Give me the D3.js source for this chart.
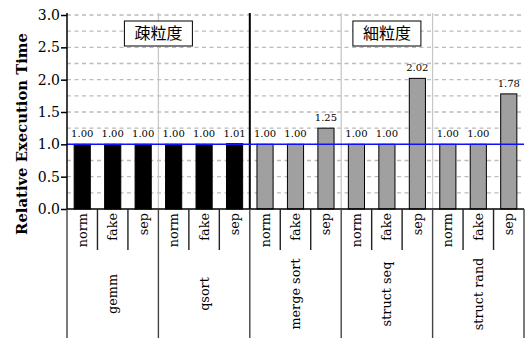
<!DOCTYPE html>
<html>
<head>
<meta charset="utf-8">
<script src="https://cdn.jsdelivr.net/npm/d3@7"></script>
<style>
  body { margin: 0; background: #fff; }
  text { font-family: "DejaVu Serif", serif; fill: #000; }
</style>
</head>
<body>
<svg></svg>
<script>
const groups = ["gemm", "qsort", "merge sort", "struct seq", "struct rand"];
const variants = ["norm", "fake", "sep"];
// relative execution time per group, in variant order
const values = [
  [1.00, 1.00, 1.00],
  [1.00, 1.00, 1.01],
  [1.00, 1.00, 1.25],
  [1.00, 1.00, 2.02],
  [1.00, 1.00, 1.78],
];
const groupKind = ["coarse", "coarse", "fine", "fine", "fine"];
const kindLabels = { coarse: "疎粒度", fine: "細粒度" };
const yTicks = [0, 0.5, 1.0, 1.5, 2.0, 2.5, 3.0];
const gridTicks = [0.25, 0.5, 0.75, 1, 1.25, 1.5, 1.75, 2, 2.25, 2.5, 2.75, 3];

const width = 526,
  height = 338,
  margin = { top: 15, right: 2, bottom: 129, left: 67 };

const svg = d3.select("svg").attr("width", width).attr("height", height);

// flat list of bars
const bars = [];
groups.forEach((g, gi) => {
  variants.forEach((v, vi) => {
    bars.push({ key: g + "|" + v, group: g, variant: v, value: values[gi][vi], kind: groupKind[gi] });
  });
});

const x = d3
  .scaleBand()
  .domain(bars.map((d) => d.key))
  .range([margin.left, width - margin.right])
  .paddingInner(0.47)
  .paddingOuter(0.235);

const y = d3
  .scaleLinear()
  .domain([0, 3])
  .range([height - margin.bottom, margin.top]);

const step = x.step();
const groupWidth = step * variants.length;
const groupLeft = (gi) => margin.left + gi * groupWidth;
const yTop = y(3.03);
const y0 = y(0);

// dashed grid
svg
  .append("g")
  .selectAll("line")
  .data(gridTicks)
  .enter()
  .append("line")
  .attr("x1", margin.left)
  .attr("x2", width - margin.right)
  .attr("y1", (d) => y(d))
  .attr("y2", (d) => y(d))
  .attr("stroke", "#bbb")
  .attr("stroke-width", 1.4)
  .attr("stroke-dasharray", "4,3.5");

// group separators inside the plot
const kindChange = groups.map((g, gi) => gi > 0 && groupKind[gi] !== groupKind[gi - 1]);
svg
  .append("g")
  .selectAll("line")
  .data(groups.slice(1).map((g, i) => i + 1))
  .enter()
  .append("line")
  .attr("x1", (gi) => groupLeft(gi))
  .attr("x2", (gi) => groupLeft(gi))
  .attr("y1", yTop)
  .attr("y2", y0)
  .attr("stroke", (gi) => (kindChange[gi] ? "#000" : "#c8c8c8"))
  .attr("stroke-width", (gi) => (kindChange[gi] ? 2 : 1.3));

// bars
svg
  .append("g")
  .selectAll("rect")
  .data(bars)
  .enter()
  .append("rect")
  .attr("x", (d) => x(d.key))
  .attr("y", (d) => y(d.value))
  .attr("width", x.bandwidth())
  .attr("height", (d) => y0 - y(d.value))
  .attr("fill", (d) => (d.kind === "coarse" ? "#000" : "#a0a0a0"))
  .attr("stroke", "#000")
  .attr("stroke-width", 1);

// value labels
svg
  .append("g")
  .selectAll("text")
  .data(bars)
  .enter()
  .append("text")
  .attr("x", (d) => x(d.key) + x.bandwidth() / 2)
  .attr("y", (d) => y(d.value) - 7)
  .attr("text-anchor", "middle")
  .attr("font-size", 10)
  .text((d) => d.value.toFixed(2));

// baseline at 1.0
svg
  .append("line")
  .attr("x1", margin.left)
  .attr("x2", width - margin.right)
  .attr("y1", y(1))
  .attr("y2", y(1))
  .attr("stroke", "#1010ff")
  .attr("stroke-width", 1.5);

// y axis
const yAxis = svg
  .append("g")
  .attr("transform", `translate(${margin.left},0)`)
  .call(d3.axisLeft(y).tickValues(yTicks).tickFormat(d3.format(".1f")).tickSize(6).tickPadding(1));
yAxis.select(".domain").attr("d", `M0,${yTop}V${y0}`).attr("stroke-width", 1.5);
yAxis.selectAll(".tick line").attr("stroke-width", 1.5);
yAxis.selectAll("text").attr("font-size", 14).attr("font-family", "DejaVu Serif");

svg
  .append("text")
  .attr("transform", `translate(27, 134) rotate(-90)`)
  .attr("text-anchor", "middle")
  .attr("font-size", 14.8)
  .attr("font-weight", "bold")
  .text("Relative Execution Time");

// x axis baseline
svg
  .append("line")
  .attr("x1", margin.left)
  .attr("x2", width - margin.right)
  .attr("y1", y0)
  .attr("y2", y0)
  .attr("stroke", "#000")
  .attr("stroke-width", 1.5);

// variant separators below axis
const subSep = [];
groups.forEach((g, gi) => {
  for (let i = 1; i < variants.length; i++) subSep.push(groupLeft(gi) + i * step);
});
svg
  .append("g")
  .selectAll("line")
  .data(subSep)
  .enter()
  .append("line")
  .attr("x1", (d) => d)
  .attr("x2", (d) => d)
  .attr("y1", y0)
  .attr("y2", y0 + 41)
  .attr("stroke", "#222")
  .attr("stroke-width", 1.4);

// group separators below axis
svg
  .append("g")
  .selectAll("line")
  .data(d3.range(groups.length + 1))
  .enter()
  .append("line")
  .attr("x1", (gi) => groupLeft(gi))
  .attr("x2", (gi) => groupLeft(gi))
  .attr("y1", y0)
  .attr("y2", height)
  .attr("stroke", "#444")
  .attr("stroke-width", 1.4);

// variant labels
svg
  .append("g")
  .selectAll("text")
  .data(bars)
  .enter()
  .append("text")
  .attr("transform", (d) => `translate(${x(d.key) + x.bandwidth() / 2}, ${y0 + 4}) rotate(-90)`)
  .attr("text-anchor", "end")
  .attr("dy", "0.35em")
  .attr("font-size", 12.8)
  .text((d) => d.variant);

// group labels
svg
  .append("g")
  .selectAll("text")
  .data(groups)
  .enter()
  .append("text")
  .attr("transform", (d, gi) => `translate(${groupLeft(gi) + groupWidth / 2}, 294) rotate(-90)`)
  .attr("text-anchor", "middle")
  .attr("dy", "0.35em")
  .attr("font-size", 12.8)
  .text((d) => d);

// granularity boxes
const kinds = Object.keys(kindLabels).map((k) => {
  const idx = groupKind.map((g, i) => (g === k ? i : -1)).filter((i) => i >= 0);
  const left = groupLeft(d3.min(idx));
  const right = groupLeft(d3.max(idx) + 1);
  return { label: kindLabels[k], cx: (left + right) / 2 };
});

const box = svg
  .append("g")
  .selectAll("g")
  .data(kinds)
  .enter()
  .append("g")
  .attr("transform", (d) => `translate(${d.cx}, 33.5)`);

box
  .append("rect")
  .attr("x", -34)
  .attr("y", -12.5)
  .attr("width", 68)
  .attr("height", 25)
  .attr("fill", "#fff")
  .attr("stroke", "#000")
  .attr("stroke-width", 1);

box
  .append("text")
  .attr("text-anchor", "middle")
  .attr("dy", "0.36em")
  .attr("font-size", 16)
  .style("font-family", "'Noto Sans CJK JP'")
  .text((d) => d.label);
</script>
</body>
</html>
